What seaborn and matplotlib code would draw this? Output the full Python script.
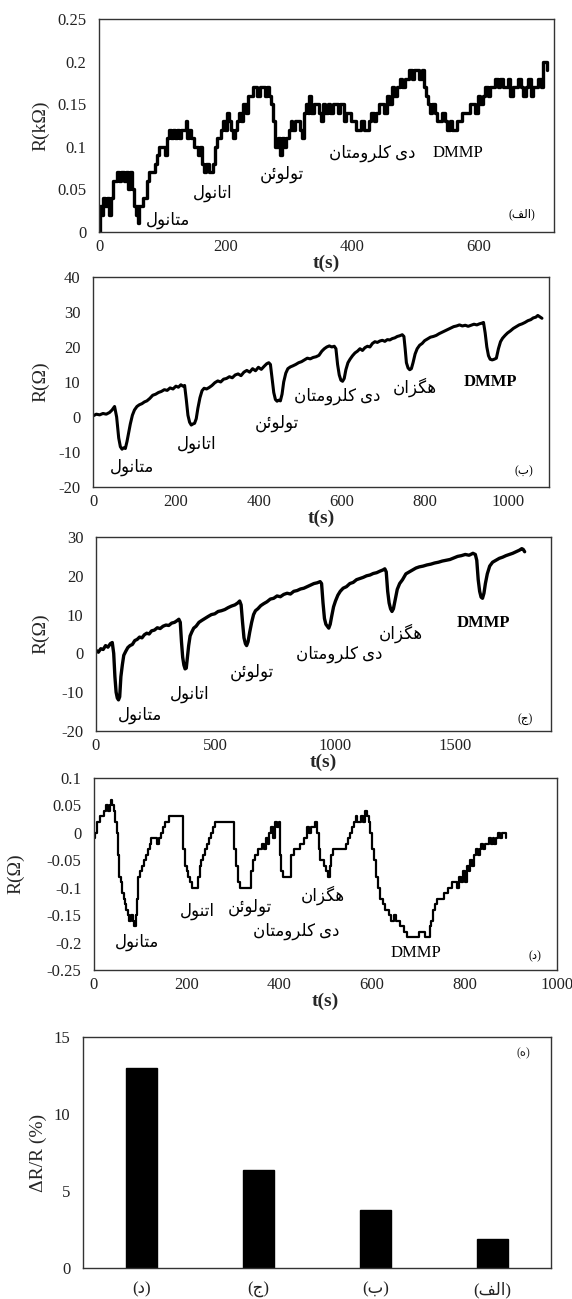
import matplotlib
matplotlib.use("Agg")
import matplotlib.pyplot as plt
import seaborn as sns
from matplotlib.ticker import FuncFormatter, MultipleLocator

# panel (الف) - stepped response, kOhm
t_a = [0, 1, 4, 7, 10, 13, 16, 19, 22, 25,
       28, 31, 34, 37, 40, 43, 46, 49, 52, 55,
       58, 60, 62, 64, 67, 70, 73, 76, 79, 82,
       86, 89, 92, 95, 98, 101, 105, 108, 111, 114,
       117, 120, 123, 126, 130, 133, 137, 140, 143, 146,
       150, 154, 157, 160, 163, 166, 170, 174, 178, 181,
       184, 187, 190, 193, 196, 199, 203, 206, 209, 212,
       215, 218, 221, 224, 228, 232, 236, 240, 243, 246,
       250, 254, 258, 262, 266, 269, 272, 275, 278, 281,
       284, 286, 289, 292, 296, 300, 303, 306, 310, 314,
       318, 321, 324, 327, 330, 333, 336, 340, 344, 348,
       352, 355, 358, 362, 366, 370, 374, 378, 382, 387,
       391, 395, 399, 403, 407, 411, 415, 419, 423, 427,
       431, 435, 439, 443, 447, 451, 455, 459, 463, 467,
       471, 476, 480, 484, 488, 491, 495, 499, 503, 507,
       511, 514, 517, 520, 523, 527, 531, 535, 539, 543,
       547, 551, 555, 559, 563, 567, 571, 575, 579, 583,
       587, 591, 595, 599, 603, 607, 611, 615, 619, 623,
       627, 631, 635, 639, 643, 647, 651, 655, 659, 663,
       667, 671, 675, 679, 683, 687, 691, 695, 699, 702,
       705, 709]
r_a = [0.00, 0.03, 0.02, 0.04, 0.03, 0.04, 0.02, 0.04, 0.06, 0.06,
       0.07, 0.06, 0.07, 0.07, 0.06, 0.07, 0.05, 0.07, 0.05, 0.03,
       0.02, 0.03, 0.01, 0.03, 0.03, 0.04, 0.04, 0.06, 0.07, 0.07,
       0.07, 0.08, 0.09, 0.10, 0.10, 0.10, 0.09, 0.11, 0.12, 0.11,
       0.12, 0.11, 0.12, 0.11, 0.12, 0.12, 0.13, 0.11, 0.12, 0.11,
       0.10, 0.10, 0.09, 0.10, 0.08, 0.07, 0.08, 0.07, 0.07, 0.08,
       0.10, 0.11, 0.11, 0.12, 0.13, 0.12, 0.14, 0.13, 0.12, 0.11,
       0.12, 0.13, 0.14, 0.13, 0.15, 0.14, 0.16, 0.16, 0.17, 0.17,
       0.16, 0.17, 0.17, 0.16, 0.17, 0.16, 0.15, 0.13, 0.10, 0.10,
       0.11, 0.09, 0.11, 0.10, 0.11, 0.12, 0.13, 0.12, 0.13, 0.13,
       0.12, 0.11, 0.14, 0.15, 0.14, 0.16, 0.14, 0.15, 0.15, 0.14,
       0.13, 0.15, 0.14, 0.15, 0.14, 0.15, 0.15, 0.14, 0.15, 0.13,
       0.14, 0.14, 0.13, 0.13, 0.12, 0.12, 0.13, 0.12, 0.12, 0.13,
       0.14, 0.13, 0.14, 0.15, 0.15, 0.14, 0.16, 0.15, 0.17, 0.16,
       0.17, 0.18, 0.17, 0.18, 0.18, 0.19, 0.18, 0.19, 0.19, 0.18,
       0.19, 0.17, 0.16, 0.15, 0.14, 0.15, 0.14, 0.13, 0.13, 0.14,
       0.13, 0.12, 0.13, 0.12, 0.12, 0.13, 0.13, 0.14, 0.14, 0.14,
       0.15, 0.15, 0.14, 0.16, 0.15, 0.16, 0.17, 0.16, 0.17, 0.17,
       0.18, 0.17, 0.18, 0.17, 0.17, 0.18, 0.16, 0.17, 0.17, 0.18,
       0.17, 0.16, 0.17, 0.18, 0.16, 0.17, 0.17, 0.18, 0.17, 0.20,
       0.20, 0.19]

# panel (ب)
t_b = [0, 8, 16, 24, 32, 40, 46, 52, 57, 62,
       66, 70, 74, 78, 82, 86, 90, 95, 100, 106,
       112, 118, 124, 130, 137, 144, 151, 158, 165, 172,
       179, 186, 193, 200, 206, 212, 217, 221, 225, 229,
       233, 237, 241, 245, 249, 253, 258, 263, 268, 274,
       280, 287, 294, 301, 308, 315, 322, 329, 336, 343,
       350, 357, 364, 371, 378, 385, 392, 399, 406, 413,
       419, 424, 428, 432, 436, 440, 444, 448, 452, 456,
       460, 465, 470, 476, 482, 489, 496, 503, 510, 517,
       524, 531, 538, 545, 552, 558, 564, 570, 576, 582,
       586, 590, 594, 598, 602, 606, 610, 615, 620, 626,
       632, 638, 644, 650, 656, 662, 668, 674, 680, 686,
       692, 698, 704, 710, 716, 722, 728, 734, 740, 746,
       750, 753, 756, 760, 764, 768, 772, 777, 782, 788,
       794, 800, 807, 814, 821, 828, 835, 842, 849, 856,
       863, 870, 877, 884, 891, 898, 905, 912, 919, 926,
       932, 938, 942, 946, 950, 954, 958, 963, 968, 973,
       978, 983, 988, 994, 1000, 1007, 1014, 1021, 1028, 1035,
       1042, 1049, 1056, 1062, 1068, 1073, 1078, 1083]
r_b = [0.3, 0.8, 0.6, 1.0, 0.8, 1.3, 2.0, 3.0, 0.0, -6.0,
       -8.5, -9.2, -8.8, -9.0, -7.0, -4.5, -2.0, 0.5, 2.0, 3.0,
       3.5, 3.8, 4.3, 4.6, 5.3, 6.2, 6.5, 7.0, 7.3, 7.8,
       7.6, 8.3, 8.0, 8.8, 8.5, 9.2, 8.8, 9.0, 5.0, 0.5,
       -1.5, -2.3, -2.0, -1.8, -0.5, 2.5, 5.5, 7.5, 8.2, 8.0,
       8.4, 9.0, 9.8, 10.3, 10.0, 10.8, 11.0, 11.5, 11.2, 12.0,
       12.3, 11.8, 12.8, 13.3, 12.8, 13.8, 13.2, 14.2, 13.6, 14.5,
       15.2, 15.5, 15.0, 11.0, 7.0, 5.0, 4.5, 4.8, 4.6, 6.5,
       10.0, 12.5, 13.8, 14.3, 14.6, 15.0, 15.5, 15.8, 16.3, 16.8,
       16.6, 17.0, 17.2, 17.6, 18.8, 19.5, 20.0, 20.3, 20.0, 20.2,
       19.5, 15.0, 12.0, 10.5, 10.2, 11.0, 13.5, 15.5, 16.5, 17.5,
       18.3, 18.8, 19.5, 19.0, 19.8, 20.2, 20.0, 21.0, 21.5, 21.3,
       21.7, 21.9, 21.6, 22.1, 22.0, 22.4, 22.6, 23.0, 23.2, 23.5,
       23.0, 19.5, 15.5, 14.0, 13.5, 13.8, 15.5, 18.0, 19.5, 20.5,
       21.0, 21.8, 22.3, 22.8, 23.0, 23.3, 23.8, 24.2, 24.6, 25.0,
       25.4, 25.8, 26.0, 26.3, 26.0, 26.2, 25.9, 26.2, 26.5, 26.3,
       26.6, 26.8, 27.0, 24.0, 20.0, 17.5, 16.5, 16.3, 16.5, 16.8,
       19.5, 21.5, 22.5, 23.3, 24.0, 24.6, 25.3, 25.8, 26.3, 26.6,
       27.0, 27.5, 27.8, 28.3, 28.5, 29.0, 28.6, 28.2]

# panel (ج)
t_c = [0, 10, 20, 30, 40, 50, 60, 68, 74, 79,
       84, 89, 94, 99, 104, 110, 116, 124, 133, 142,
       152, 162, 172, 182, 192, 202, 212, 222, 232, 244,
       256, 268, 280, 292, 304, 316, 328, 340, 346, 352,
       357, 362, 367, 372, 377, 382, 387, 393, 400, 408,
       418, 430, 442, 455, 468, 482, 496, 510, 524, 538,
       552, 566, 580, 592, 600, 606, 612, 618, 624, 629,
       635, 642, 650, 658, 666, 676, 688, 700, 714, 728,
       742, 756, 770, 784, 798, 812, 826, 840, 854, 868,
       882, 896, 910, 924, 936, 942, 948, 954, 960, 966,
       972, 978, 984, 992, 1000, 1010, 1020, 1032, 1046, 1060,
       1074, 1088, 1102, 1116, 1130, 1144, 1158, 1172, 1186, 1198,
       1206, 1212, 1218, 1224, 1230, 1236, 1242, 1250, 1258, 1268,
       1280, 1294, 1308, 1322, 1336, 1350, 1366, 1382, 1398, 1414,
       1430, 1446, 1462, 1478, 1494, 1510, 1526, 1542, 1558, 1574,
       1584, 1590, 1596, 1602, 1608, 1614, 1620, 1626, 1634, 1644,
       1656, 1670, 1684, 1698, 1712, 1726, 1740, 1754, 1768, 1778,
       1784, 1790]
r_c = [0.8, 0.3, 1.2, 1.0, 2.0, 1.6, 2.5, 2.8, 0.0, -6.0,
       -10.0, -11.5, -12.0, -11.2, -6.0, -3.0, -0.5, 0.5, 1.5, 2.0,
       2.3, 3.3, 3.6, 4.2, 4.0, 4.8, 5.2, 5.0, 5.8, 6.0,
       6.6, 6.4, 7.0, 7.3, 7.2, 7.8, 8.0, 8.5, 8.8, 8.0,
       3.0, -1.0, -3.0, -4.0, -3.8, -1.0, 2.0, 4.5, 5.5, 6.5,
       7.0, 8.0, 8.5, 9.0, 9.5, 10.0, 10.2, 10.8, 11.0, 11.3,
       11.8, 12.2, 12.5, 13.0, 13.5, 12.5, 8.0, 4.0, 2.5, 2.0,
       3.0, 5.5, 8.0, 10.0, 11.0, 11.5, 12.3, 12.8, 13.3, 14.0,
       14.2, 14.8, 14.6, 15.2, 15.5, 15.3, 16.0, 16.2, 16.6, 16.8,
       17.2, 17.6, 18.0, 18.2, 18.5, 18.0, 13.0, 9.0, 7.5, 7.0,
       6.5, 7.5, 9.5, 12.0, 13.5, 15.0, 16.0, 16.8, 17.2, 18.0,
       18.3, 19.0, 19.3, 19.6, 20.0, 20.2, 20.6, 20.8, 21.2, 21.5,
       21.8, 21.0, 16.0, 13.0, 11.5, 10.8, 11.5, 14.0, 16.5, 18.0,
       19.0, 20.5, 21.0, 21.5, 22.0, 22.3, 22.5, 22.8, 23.0, 23.3,
       23.5, 23.8, 24.0, 24.2, 24.6, 25.0, 25.2, 25.5, 25.3, 25.8,
       25.5, 24.0, 19.0, 16.0, 14.5, 14.2, 15.5, 18.0, 20.5, 22.5,
       23.5, 24.0, 24.5, 24.8, 25.2, 25.5, 25.8, 26.2, 26.6, 27.0,
       26.8, 26.2]

# panel (د)
t_d = [0, 3, 6, 10, 14, 18, 22, 26, 30, 34,
       37, 40, 43, 46, 49, 52, 55, 58, 61, 64,
       67, 70, 73, 76, 80, 84, 87, 90, 93, 96,
       100, 104, 108, 112, 116, 120, 124, 130, 136, 141,
       145, 149, 153, 157, 161, 188, 192, 196, 200, 204,
       208, 212, 220, 224, 228, 232, 236, 240, 244, 248,
       252, 256, 262, 299, 303, 307, 311, 315, 335, 339,
       343, 347, 351, 355, 359, 363, 367, 371, 375, 379,
       383, 387, 391, 395, 399, 402, 405, 408, 421, 425,
       429, 433, 437, 441, 445, 449, 453, 457, 461, 465,
       469, 473, 477, 481, 485, 489, 493, 497, 501, 505,
       509, 513, 517, 521, 529, 537, 545, 549, 553, 557,
       561, 565, 569, 573, 577, 581, 585, 589, 593, 597,
       601, 605, 609, 613, 617, 621, 625, 629, 633, 637,
       641, 645, 649, 653, 657, 661, 665, 669, 673, 677,
       681, 689, 697, 703, 711, 715, 721, 725, 729, 733,
       737, 741, 745, 753, 757, 761, 765, 769, 773, 777,
       781, 785, 789, 793, 797, 801, 805, 809, 813, 817,
       821, 825, 829, 833, 837, 841, 845, 849, 853, 857,
       861, 865, 869, 873, 877, 881, 885, 889]
r_d = [-0.01, 0.00, 0.02, 0.02, 0.03, 0.03, 0.04, 0.05, 0.04, 0.05,
       0.06, 0.05, 0.04, 0.02, 0.00, -0.04, -0.08, -0.09, -0.11, -0.12,
       -0.13, -0.14, -0.15, -0.16, -0.15, -0.16, -0.17, -0.15, -0.12, -0.08,
       -0.07, -0.06, -0.05, -0.04, -0.03, -0.02, -0.01, -0.01, -0.02, -0.01,
       0.00, 0.01, 0.02, 0.02, 0.03, 0.03, -0.03, -0.06, -0.07, -0.08,
       -0.09, -0.10, -0.10, -0.08, -0.06, -0.05, -0.04, -0.03, -0.02, -0.01,
       0.00, 0.01, 0.02, 0.02, -0.03, -0.06, -0.09, -0.10, -0.10, -0.07,
       -0.05, -0.04, -0.04, -0.03, -0.03, -0.02, -0.03, -0.01, -0.02, 0.00,
       0.01, -0.01, 0.02, 0.01, 0.02, -0.04, -0.07, -0.08, -0.08, -0.04,
       -0.04, -0.03, -0.03, -0.03, -0.02, -0.02, -0.01, -0.01, 0.01, 0.00,
       0.01, 0.01, 0.02, 0.00, -0.03, -0.05, -0.05, -0.06, -0.07, -0.08,
       -0.06, -0.04, -0.03, -0.03, -0.03, -0.03, -0.02, -0.01, 0.00, 0.01,
       0.02, 0.03, 0.02, 0.02, 0.03, 0.02, 0.04, 0.03, 0.02, 0.00,
       -0.03, -0.05, -0.08, -0.10, -0.12, -0.12, -0.13, -0.14, -0.14, -0.15,
       -0.16, -0.16, -0.15, -0.16, -0.16, -0.17, -0.17, -0.18, -0.18, -0.19,
       -0.19, -0.19, -0.19, -0.18, -0.18, -0.19, -0.19, -0.17, -0.16, -0.14,
       -0.13, -0.12, -0.12, -0.12, -0.11, -0.11, -0.10, -0.10, -0.09, -0.09,
       -0.09, -0.10, -0.08, -0.09, -0.07, -0.09, -0.06, -0.07, -0.05, -0.06,
       -0.04, -0.03, -0.04, -0.03, -0.02, -0.03, -0.02, -0.02, -0.01, -0.02,
       -0.01, -0.02, -0.01, 0.00, -0.01, 0.00, 0.00, -0.01]

# panel (ه) - response of each sensor
sensors = ['د', 'ج', 'ب', 'الف']
response = [13.0, 6.35, 3.75, 1.88]

# Arabic presentation forms: isolated, final, initial, medial
FORMS = {
    'ا': ('\uFE8D', '\uFE8E', None, None),
    'ب': ('\uFE8F', '\uFE90', '\uFE91', '\uFE92'),
    'ت': ('\uFE95', '\uFE96', '\uFE97', '\uFE98'),
    'ج': ('\uFE9D', '\uFE9E', '\uFE9F', '\uFEA0'),
    'د': ('\uFEA9', '\uFEAA', None, None),
    'ر': ('\uFEAD', '\uFEAE', None, None),
    'ز': ('\uFEAF', '\uFEB0', None, None),
    'ف': ('\uFED1', '\uFED2', '\uFED3', '\uFED4'),
    'ل': ('\uFEDD', '\uFEDE', '\uFEDF', '\uFEE0'),
    'م': ('\uFEE1', '\uFEE2', '\uFEE3', '\uFEE4'),
    'ن': ('\uFEE5', '\uFEE6', '\uFEE7', '\uFEE8'),
    'ه': ('\uFEE9', '\uFEEA', '\uFEEB', '\uFEEC'),
    'و': ('\uFEED', '\uFEEE', None, None),
    'ئ': ('\uFE89', '\uFE8A', '\uFE8B', '\uFE8C'),
    'ی': ('\uFBFC', '\uFBFD', '\uFBFE', '\uFBFF'),
    'ک': ('\uFB8E', '\uFB8F', '\uFB90', '\uFB91'),
    'گ': ('\uFB92', '\uFB93', '\uFB94', '\uFB95'),
}


def fa(text):
    # join letters and flip to visual order (matplotlib has no bidi)
    out = []
    for i, ch in enumerate(text):
        if ch not in FORMS:
            out.append(ch)
            continue
        prev = text[i - 1] if i > 0 else None
        nxt = text[i + 1] if i + 1 < len(text) else None
        jp = prev in FORMS and FORMS[prev][2] is not None
        jn = nxt in FORMS and FORMS[ch][2] is not None
        iso, fin, ini, med = FORMS[ch]
        if jp and jn:
            out.append(med)
        elif jp:
            out.append(fin)
        elif jn:
            out.append(ini)
        else:
            out.append(iso)
    return ''.join(reversed(out))


def tag(word):
    return '(' + fa(word) + ')'


sns.set_style('white')
plt.rcParams['font.family'] = ['Liberation Serif', 'DejaVu Sans']
plt.rcParams['axes.linewidth'] = 1.0
plt.rcParams['axes.edgecolor'] = '#333333'

fig = plt.figure(figsize=(5.72, 12.99), dpi=100)
gfmt = FuncFormatter(lambda v, p: '{:g}'.format(round(v, 4)))


def style(ax, xlim, ylim, ystep, xstep, ylabel, ylab_x):
    ax.set_xlim(*xlim)
    ax.set_ylim(*ylim)
    ax.yaxis.set_major_locator(MultipleLocator(ystep))
    ax.xaxis.set_major_locator(MultipleLocator(xstep))
    ax.yaxis.set_major_formatter(gfmt)
    ax.tick_params(length=0, labelsize=12, colors='#222222')
    ax.tick_params(axis='y', pad=9)
    ax.tick_params(axis='x', pad=5)
    ax.set_ylabel(ylabel, fontsize=14)
    ax.yaxis.set_label_coords(ylab_x, 0.5)
    ax.set_xlabel('t(s)', fontsize=14, fontweight='bold', labelpad=0)
    for s in ax.spines.values():
        s.set_visible(True)


def notes(ax, items, size=12):
    for txt, x, y, bold in items:
        ax.text(x, y, txt, ha='center', va='center', fontsize=size,
                fontweight='bold' if bold else 'normal', color='black')


# (الف)
ax1 = fig.add_axes([0.1731, 0.8214, 0.7955, 0.1640])
sns.lineplot(x=t_a, y=r_a, ax=ax1, color='black', lw=2.4,
             drawstyle='steps-post', estimator=None)
style(ax1, (0, 720), (0, 0.25), 0.05, 200, 'R(kΩ)', -0.11)
notes(ax1, [(fa('متانول'), 109, 0.014, False), (fa('اتانول'), 180, 0.045, False),
            (fa('تولوئن'), 289, 0.068, False), (fa('دی کلرومتان'), 433, 0.092, False),
            ('DMMP', 568, 0.093, False)])
notes(ax1, [(tag('الف'), 669, 0.021, False)], size=8.5)

# (ب)
ax2 = fig.add_axes([0.1626, 0.6251, 0.7972, 0.1617])
sns.lineplot(x=t_b, y=r_b, ax=ax2, color='black', lw=2.2, estimator=None)
style(ax2, (0, 1100), (-20, 40), 10, 200, 'R(Ω)', -0.096)
notes(ax2, [(fa('متانول'), 93, -14.5, False), (fa('اتانول'), 251, -7.9, False),
            (fa('تولوئن'), 443, -1.8, False), (fa('دی کلرومتان'), 590, 5.8, False),
            (fa('هگزان'), 776, 8.6, False), ('DMMP', 958, 10.0, True)])
notes(ax2, [(tag('ب'), 1040, -15.5, False)], size=8.5)

# (ج)
ax3 = fig.add_axes([0.1678, 0.4373, 0.7955, 0.1493])
sns.lineplot(x=t_c, y=r_c, ax=ax3, color='black', lw=2.4, estimator=None)
style(ax3, (0, 1900), (-20, 30), 10, 500, 'R(Ω)', -0.103)
notes(ax3, [(fa('متانول'), 184, -16.1, False), (fa('اتانول'), 392, -10.6, False),
            (fa('تولوئن'), 651, -5.0, False), (fa('دی کلرومتان'), 1015, -0.3, False),
            (fa('هگزان'), 1274, 5.3, False), ('DMMP', 1616, 7.9, True)])
notes(ax3, [(tag('ج'), 1790, -17.0, False)], size=8.5)

# (د)
ax4 = fig.add_axes([0.1643, 0.2533, 0.8094, 0.1478])
sns.lineplot(x=t_d, y=r_d, ax=ax4, color='black', lw=1.6,
             drawstyle='steps-post', estimator=None)
style(ax4, (0, 1000), (-0.25, 0.1), 0.05, 200, 'R(Ω)', -0.151)
notes(ax4, [(fa('متانول'), 93, -0.200, False), (fa('اتنول'), 223, -0.144, False),
            (fa('تولوئن'), 337, -0.135, False), (fa('دی کلرومتان'), 436, -0.180, False),
            (fa('هگزان'), 495, -0.114, False), ('DMMP', 696, -0.219, False)])
notes(ax4, [(tag('د'), 953, -0.225, False)], size=8.5)

# (ه) bar chart
ax5 = fig.add_axes([0.1451, 0.0239, 0.8182, 0.1778])
labels = [tag(s) for s in sensors]
sns.barplot(x=labels, y=response, ax=ax5, color='black', width=0.26,
            saturation=1, edgecolor='black')
ax5.set_ylim(0, 15)
ax5.yaxis.set_major_locator(MultipleLocator(5))
ax5.tick_params(length=0, labelsize=12, colors='#222222')
ax5.tick_params(axis='y', pad=9)
ax5.tick_params(axis='x', pad=10)
ax5.set_ylabel('ΔR/R (%)', fontsize=14)
ax5.yaxis.set_label_coords(-0.077, 0.5)
for s in ax5.spines.values():
    s.set_visible(True)
ax5.text(0.94, 0.93, tag('ه'), transform=ax5.transAxes, ha='center',
         va='center', fontsize=8.5)

fig.savefig('out.png', dpi=100)
